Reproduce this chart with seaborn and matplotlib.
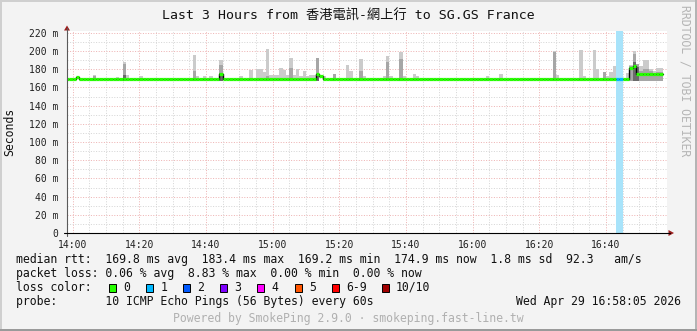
import numpy as np
import pandas as pd
import matplotlib
matplotlib.use("Agg")
import matplotlib.pyplot as plt
import seaborn as sns
from matplotlib.patches import Polygon, Rectangle
from matplotlib.lines import Line2D

# ---------------- data (minutes relative to 14:00) ----------------
title = "Last 3 Hours from 香港電訊-網上行 to SG.GS France"

# median rtt (ms), step changes: start minute -> value
med_t = [-2, 1, 2, 44, 45, 73, 74, 75, 167, 168, 169]
med_v = [169.5, 171.5, 169.5, 174.5, 169.3, 174.5, 172.0, 169.5, 181.0, 183.0, 175.0]
data_end = 177

# smoke: per-minute max ping, mid-gray layer top, dark layer top (0 = none)
smoke_t = [6, 13, 15, 16, 20, 36, 37, 39, 41, 44, 50, 53, 55, 56, 57, 58, 59, 60,
           61, 62, 63, 64, 65, 66, 67, 68, 69, 70, 71, 72, 73, 75, 78, 82, 83, 86,
           87, 93, 94, 95, 98, 99, 102, 103, 124, 128, 144, 145, 152, 153, 156, 157,
           159, 160, 161, 162, 163, 166, 167, 168, 169, 170, 171, 172, 173, 174, 175, 176]
smoke_max = [174, 171.5, 188, 174, 172.5, 196, 173, 173, 173, 190, 173, 179, 180.5, 180.5,
             176.5, 202, 174, 174, 174, 181.5, 179, 174, 192.5, 174, 180, 172, 178, 172,
             174, 174, 192.5, 173, 175, 185, 178, 191.5, 172, 172, 195, 173, 199, 173,
             175, 173, 172, 175, 200, 174, 201, 173, 201, 180, 177, 172, 177, 183, 183,
             175.5, 185, 200, 186, 183, 190, 190, 180, 178, 181, 181]
smoke_mid = [172, 0, 186, 0, 0, 178, 0, 0, 0, 185, 0, 0, 0, 0,
             0, 172, 0, 0, 0, 0, 0, 0, 181.5, 0, 0, 0, 0, 0,
             0, 0, 192.5, 0, 175, 0, 0, 178, 0, 0, 188, 0, 191, 0,
             0, 0, 0, 0, 199, 0, 0, 0, 0, 0, 177, 0, 0, 0, 0,
             0, 183, 197, 186, 178, 180, 180, 178, 176, 177, 177]
smoke_dark = [0, 0, 174, 0, 0, 0, 0, 0, 0, 176, 0, 0, 0, 0,
              0, 0, 0, 0, 0, 0, 0, 0, 0, 0, 0, 0, 0, 0,
              0, 0, 174, 0, 0, 0, 0, 0, 0, 0, 0, 0, 0, 0,
              0, 0, 0, 0, 0, 0, 0, 0, 0, 0, 0, 0, 0, 0, 0,
              0, 0, 188, 182, 0, 0, 0, 0, 0, 0, 0]

# packet loss (pings lost out of 10)
loss_t = [163, 164]
loss_n = [1, 1]

x_ticks = [0, 20, 40, 60, 80, 100, 120, 140, 160]
x_labels = ["14:00", "14:20", "14:40", "15:00", "15:20", "15:40", "16:00", "16:20", "16:40"]
y_ticks = [0, 20, 40, 60, 80, 100, 120, 140, 160, 180, 200, 220]
y_labels = ["0"] + [f"{v} m" for v in y_ticks[1:]]

loss_labels = ["0", "1", "2", "3", "4", "5", "6-9", "10/10"]
loss_colors = ["#26ff00", "#00b8ff", "#0059ff", "#7e00ff", "#ff00ff", "#ff5500", "#ff0000", "#a00000"]

stat_lines = [
    "median rtt:  169.8 ms avg  183.4 ms max  169.2 ms min  174.9 ms now  1.8 ms sd  92.3   am/s",
    "packet loss: 0.06 % avg  8.83 % max  0.00 % min  0.00 % now",
]
probe_line = "probe:       10 ICMP Echo Pings (56 Bytes) every 60s"
date_text = "Wed Apr 29 16:58:05 2026"
footer = "Powered by SmokePing 2.9.0 · smokeping.fast-line.tw"

# ---------------- figure ----------------
sns.set_theme(style="white")
plt.rcParams["font.family"] = ["DejaVu Sans Mono", "Noto Sans CJK TC"]

W, H = 697, 331
BG = "#f3f3f3"
fig = plt.figure(figsize=(W / 100, H / 100), dpi=100, facecolor=BG)

def fx(x):
    return x / W

def fy(y):
    return 1 - y / H

AX_L, AX_R, AX_T, AX_B = 67, 667, 31, 233
ax = fig.add_axes([fx(AX_L), fy(AX_B), (AX_R - AX_L) / W, (AX_B - AX_T) / H])
ax.set_facecolor("white")
ax.set_xlim(-1.7, 178.3)
ax.set_ylim(0, 222)
for s in ax.spines.values():
    s.set_visible(False)

# grid
ax.set_xticks(x_ticks)
ax.set_xticklabels(x_labels)
ax.set_xticks(np.arange(5, 178, 5), minor=True)
ax.set_yticks(y_ticks)
ax.set_yticklabels(y_labels)
ax.set_yticks(np.arange(10, 221, 20), minor=True)
ax.set_axisbelow(True)
ax.grid(which="minor", color="#d6d6d6", lw=0.72, ls=(0, (1, 1.6)))
ax.grid(which="major", color="#eeb4b4", lw=0.72, ls=(0, (1, 1.6)))
ax.tick_params(axis="both", which="major", labelsize=7, labelcolor="#202020",
               length=2.5, width=0.7, color="#e08080", direction="out")
ax.tick_params(axis="both", which="minor", length=1.8, width=0.7, color="#bbbbbb",
               direction="out")
ax.tick_params(axis="x", which="major", pad=2.5)
ax.tick_params(axis="y", which="major", pad=3.5)

# smoke
sm = pd.DataFrame({"t": smoke_t, "max": smoke_max, "mid": smoke_mid, "dark": smoke_dark})
base = 167.0
ax.bar(sm["t"], sm["max"] - base, bottom=base, width=1, align="edge",
       color="#cbcbcb", linewidth=0, zorder=2)
m = sm[sm["mid"] > 0]
ax.bar(m["t"], m["mid"] - base, bottom=base, width=1, align="edge",
       color="#a6a6a6", linewidth=0, zorder=2.1)
d = sm[sm["dark"] > 0]
ax.bar(d["t"], d["dark"] - base, bottom=base, width=1, align="edge",
       color="#6a6a6a", linewidth=0, zorder=2.2)

# loss background band
for t, n in zip(loss_t, loss_n):
    ax.axvspan(t, t + 1, color="#a8e3fa", lw=0, zorder=3)

# median per minute
minutes = np.arange(med_t[0], data_end)
idx = np.searchsorted(med_t, minutes, side="right") - 1
med = np.array(med_v)[idx]
loss_map = dict(zip(loss_t, loss_n))

def loss_color(n):
    if n < 6:
        return loss_colors[n]
    return loss_colors[6] if n < 10 else loss_colors[7]

seg_colors = [loss_color(loss_map.get(t, 0)) for t in minutes]

line_df = pd.DataFrame({"t": np.append(minutes, data_end), "v": np.append(med, med[-1])})
sns.lineplot(data=line_df, x="t", y="v", drawstyle="steps-post", color="black",
             lw=1.0, estimator=None, ax=ax, zorder=4)
ax.hlines(med, minutes, minutes + 1, colors=seg_colors, lw=2.3, zorder=5)
ax.set_xlabel("")
ax.set_ylabel("")

# axis lines and arrows
fig.add_artist(Line2D([fx(AX_L), fx(AX_L)], [fy(AX_B + 3), fy(28)], color="#5a5a5a", lw=0.8))
fig.add_artist(Line2D([fx(AX_L - 3), fx(670)], [fy(AX_B), fy(AX_B)], color="black", lw=0.8))
fig.add_artist(Polygon([(fx(64), fy(30.5)), (fx(70), fy(30.5)), (fx(67), fy(25.5))],
                       closed=True, color="#9b1c1c", lw=0))
fig.add_artist(Polygon([(fx(668.5), fy(230)), (fx(668.5), fy(236)), (fx(674), fy(233))],
                       closed=True, color="#9b1c1c", lw=0))

# texts
fig.text(0.5, fy(15), title, ha="center", va="center", fontsize=9.5, color="#111111")
fig.text(fx(10), fy(132), "Seconds", rotation=90, ha="center", va="center",
         fontsize=8.3, color="#111111")
fig.text(fx(685), fy(81), "RRDTOOL / TOBI OETIKER", rotation=270, ha="center",
         va="center", fontsize=8.3, color="#b5b5b5")

fs = 8.3
fig.text(fx(16), fy(259.5), stat_lines[0], ha="left", va="center", fontsize=fs, color="#111111")
fig.text(fx(16), fy(273.5), stat_lines[1], ha="left", va="center", fontsize=fs, color="#111111")
fig.text(fx(16), fy(287.5), "loss color:", ha="left", va="center", fontsize=fs, color="#111111")
sq_x = [108.5, 145.8, 183, 220.2, 257.4, 294.6, 331.8, 381.6]
for sx, lab, col in zip(sq_x, loss_labels, loss_colors):
    fig.add_artist(Rectangle((fx(sx), fy(291.5)), 7 / W, 8 / H, facecolor=col,
                             edgecolor="black", lw=0.7))
    fig.text(fx(sx + 14.5), fy(287.5), lab, ha="left", va="center", fontsize=fs, color="#111111")
fig.text(fx(16), fy(301.5), probe_line, ha="left", va="center", fontsize=fs, color="#111111")
fig.text(fx(681), fy(301.5), date_text, ha="right", va="center", fontsize=fs, color="#111111")
fig.text(0.5, fy(318.5), footer, ha="center", va="center", fontsize=fs, color="#b0b0b0")

# 3D frame
fig.add_artist(Rectangle((0, fy(2)), 1, 2 / H, color="#cfcfcf", lw=0))
fig.add_artist(Rectangle((0, 0), 2 / W, 1, color="#cfcfcf", lw=0))
fig.add_artist(Rectangle((fx(695), 0), 2 / W, 1, color="#b4b4b4", lw=0))
fig.add_artist(Rectangle((0, 0), 1, 2.5 / H, color="#9a9a9a", lw=0))

fig.savefig("out.png", dpi=100, facecolor=BG)
